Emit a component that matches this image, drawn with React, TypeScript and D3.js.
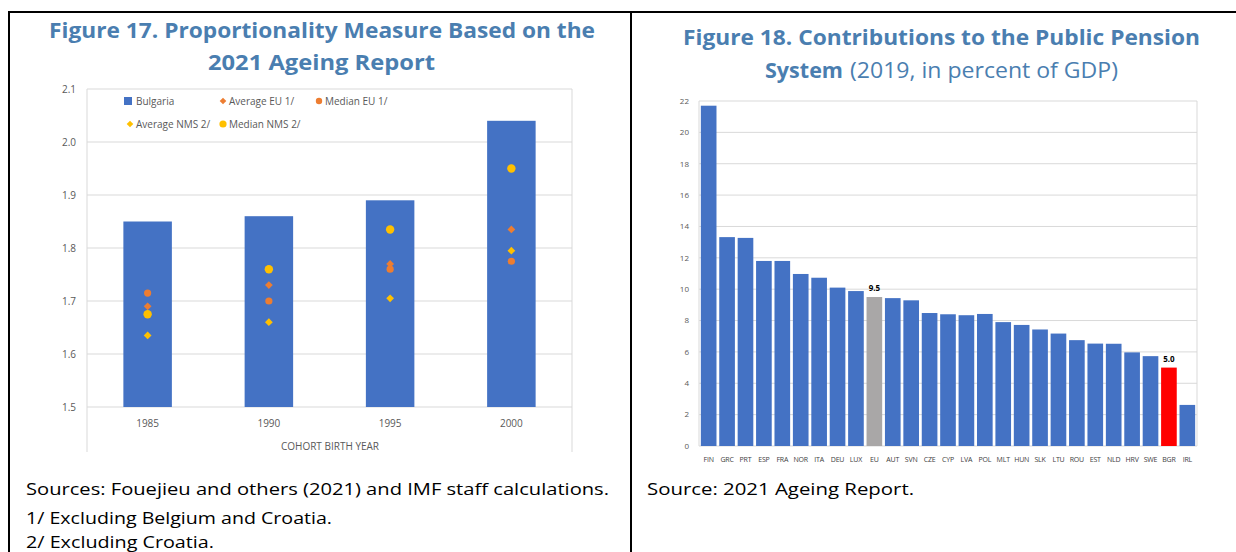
import * as d3 from "d3";

// Figure 17 data: proportionality measure by cohort
const cohorts = ["1985", "1990", "1995", "2000"];
const bulgaria = [1.85, 1.86, 1.89, 2.04];
const averageEU = [1.69, 1.73, 1.77, 1.835];
const medianEU = [1.715, 1.7, 1.76, 1.775];
const averageNMS = [1.635, 1.66, 1.705, 1.795];
const medianNMS = [1.675, 1.76, 1.835, 1.95];
const leftTicks = [1.5, 1.6, 1.7, 1.8, 1.9, 2.0, 2.1];

// Figure 18 data: contributions to public pension system, % of GDP
const countries = ["FIN", "GRC", "PRT", "ESP", "FRA", "NOR", "ITA", "DEU", "LUX", "EU", "AUT", "SVN", "CZE", "CYP",
  "LVA", "POL", "MLT", "HUN", "SLK", "LTU", "ROU", "EST", "NLD", "HRV", "SWE", "BGR", "IRL"];
const contributions = [21.7, 13.32, 13.27, 11.8, 11.8, 10.97, 10.73, 10.1, 9.88, 9.5, 9.43, 9.29, 8.48, 8.4,
  8.34, 8.42, 7.9, 7.72, 7.43, 7.17, 6.75, 6.53, 6.52, 5.97, 5.73, 5.0, 2.62];
const labelled = ["EU", "BGR"];
const rightTicks = [0, 2, 4, 6, 8, 10, 12, 14, 16, 18, 20, 22];

const TITLE = "#4a7eb0";
const BLUE = "#4472c4";
const ORANGE = "#ed7d31";
const GOLD = "#ffc000";
const GRID = "#d9d9d9";
const LABEL = "#595959";
const FONT = "'Open Sans', 'Noto Sans', sans-serif";

const diamond = d3.symbol(d3.symbolSquare, 30)();

function LeftChart() {
  const x = d3.scaleBand().domain(cohorts).range([87, 572]).paddingInner(0.6).paddingOuter(0.3);
  const y = d3.scaleLinear().domain([1.5, 2.1]).range([407, 89]);
  const cx = (c) => x(c) + x.bandwidth() / 2;

  return (
    <g fontFamily={FONT}>
      {leftTicks.map(t => (
        <g key={t}>
          <line x1={87} x2={572} y1={y(t)} y2={y(t)} stroke={GRID} />
          <text x={76} y={y(t)} dy="0.35em" textAnchor="end" fontSize={10} fill={LABEL}>{t.toFixed(1)}</text>
        </g>
      ))}
      <line x1={87} x2={87} y1={89} y2={452} stroke={GRID} />
      <line x1={572} x2={572} y1={89} y2={452} stroke={GRID} />
      {cohorts.map((c, i) => (
        <rect key={c} x={x(c)} y={y(bulgaria[i])} width={x.bandwidth()} height={y(1.5) - y(bulgaria[i])} fill={BLUE} />
      ))}
      {cohorts.map((c, i) => (
        <g key={"m" + c}>
          <circle cx={cx(c)} cy={y(medianEU[i])} r={3.6} fill={ORANGE} />
          <path d={diamond} transform={`translate(${cx(c)},${y(averageEU[i])}) rotate(45)`} fill={ORANGE} />
          <circle cx={cx(c)} cy={y(medianNMS[i])} r={4.2} fill={GOLD} />
          <path d={diamond} transform={`translate(${cx(c)},${y(averageNMS[i])}) rotate(45)`} fill={GOLD} />
        </g>
      ))}
      {cohorts.map(c => (
        <text key={"t" + c} x={cx(c)} y={427} textAnchor="middle" fontSize={10} fill={LABEL}>{c}</text>
      ))}
      <text x={330} y={450} textAnchor="middle" fontSize={10} fill={LABEL}>COHORT BIRTH YEAR</text>

      {/* legend */}
      <g fontSize={10} fill={LABEL}>
        <rect x={124} y={97} width={8} height={8} fill={BLUE} />
        <text x={136} y={101} dy="0.35em">Bulgaria</text>
        <path d={d3.symbol(d3.symbolSquare, 22)()} transform="translate(223,101) rotate(45)" fill={ORANGE} />
        <text x={229} y={101} dy="0.35em">Average EU 1/</text>
        <circle cx={319} cy={101} r={3.2} fill={ORANGE} />
        <text x={325} y={101} dy="0.35em">Median EU 1/</text>
        <path d={d3.symbol(d3.symbolSquare, 22)()} transform="translate(130,124) rotate(45)" fill={GOLD} />
        <text x={136} y={124} dy="0.35em">Average NMS 2/</text>
        <circle cx={223} cy={124} r={3.6} fill={GOLD} />
        <text x={229} y={124} dy="0.35em">Median NMS 2/</text>
      </g>
    </g>
  );
}

function RightChart() {
  const x = d3.scaleBand().domain(countries).range([699, 1197]).paddingInner(0.15).paddingOuter(0.1);
  const y = d3.scaleLinear().domain([0, 22]).range([446, 101]);
  const colorOf = (c) => (c === "EU" ? "#a9a7a7" : c === "BGR" ? "#ff0000" : BLUE);

  return (
    <g fontFamily={FONT}>
      {rightTicks.map(t => (
        <g key={t}>
          <line x1={699} x2={1197} y1={y(t)} y2={y(t)} stroke={GRID} />
          <text x={689} y={y(t)} dy="0.35em" textAnchor="end" fontSize={8} fill={LABEL}>{t}</text>
        </g>
      ))}
      <line x1={699} x2={699} y1={101} y2={446} stroke={GRID} />
      <line x1={1197} x2={1197} y1={101} y2={446} stroke={GRID} />
      {countries.map((c, i) => (
        <rect key={c} x={x(c)} y={y(contributions[i])} width={x.bandwidth()} height={y(0) - y(contributions[i])} fill={colorOf(c)} />
      ))}
      {countries.map((c, i) => labelled.includes(c) ? (
        <text key={"v" + c} x={x(c) + x.bandwidth() / 2} y={y(contributions[i]) - 6} textAnchor="middle" fontSize={8}
          fontWeight="bold" fill="#000">{contributions[i].toFixed(1)}</text>
      ) : null)}
      {countries.map(c => (
        <text key={"t" + c} x={x(c) + x.bandwidth() / 2} y={462} textAnchor="middle" fontSize={7} fill="#404040"
          letterSpacing={-0.2}>{c}</text>
      ))}
    </g>
  );
}

export default function App() {
  return (
    <svg width={1236} height={552} style={{ position: "absolute", left: 0, top: 0, background: "#fff" }}>
      <rect width={1236} height={552} fill="#fff" />
      {/* frame */}
      <line x1={9} x2={1236} y1={12} y2={12} stroke="#000" strokeWidth={2} />
      <line x1={9} x2={9} y1={11} y2={552} stroke="#000" strokeWidth={2} />
      <line x1={631} x2={631} y1={11} y2={552} stroke="#000" strokeWidth={2} />

      {/* titles */}
      <g fontFamily={FONT} fill={TITLE} fontSize={21}>
        <text x={49} y={38} fontWeight="bold" textLength={546} lengthAdjust="spacingAndGlyphs">Figure 17. Proportionality Measure Based on the</text>
        <text x={208} y={70} fontWeight="bold" textLength={227} lengthAdjust="spacingAndGlyphs">2021 Ageing Report</text>
        <text x={683} y={45} fontWeight="bold" textLength={517} lengthAdjust="spacingAndGlyphs">Figure 18. Contributions to the Public Pension</text>
        <text x={765} y={78} fontWeight="bold" textLength={78} lengthAdjust="spacingAndGlyphs">System</text>
        <text x={850} y={78} textLength={268} lengthAdjust="spacingAndGlyphs">(2019, in percent of GDP)</text>
      </g>

      <LeftChart />
      <RightChart />

      {/* notes */}
      <g fontFamily={FONT} fontSize={17} fill="#000">
        <text x={26} y={495} textLength={583} lengthAdjust="spacingAndGlyphs">Sources: Fouejieu and others (2021) and IMF staff calculations.</text>
        <text x={26} y={524} textLength={306} lengthAdjust="spacingAndGlyphs">1/ Excluding Belgium and Croatia.</text>
        <text x={26} y={548} textLength={188} lengthAdjust="spacingAndGlyphs">2/ Excluding Croatia.</text>
        <text x={647} y={495} textLength={267} lengthAdjust="spacingAndGlyphs">Source: 2021 Ageing Report.</text>
      </g>
    </svg>
  );
}
